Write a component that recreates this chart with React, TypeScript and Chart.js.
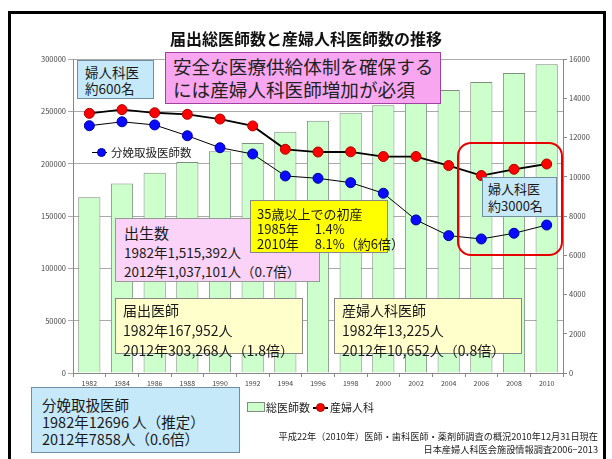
import React, { useEffect, useRef } from "react";
import { Chart, registerables } from "chart.js";

Chart.register(...registerables);

const years = ["1982", "1984", "1986", "1988", "1990", "1992", "1994", "1996", "1998", "2000", "2002", "2004", "2006", "2008", "2010"];
const totalDoctors = [167952, 181101, 191346, 201658, 211797, 219704, 230519, 240908, 248611, 255792, 262687, 270371, 277927, 286699, 295049];
const obgynDoctors = [13230, 13420, 13260, 13180, 12940, 12590, 11400, 11260, 11270, 11030, 11030, 10570, 10060, 10380, 10650];
const deliveryDoctors = [12600, 12800, 12640, 12090, 11480, 11160, 10040, 9920, 9700, 9160, 7800, 7000, 6830, 7120, 7540];
const leftTicks = { min: 0, max: 300000, step: 50000 };
const rightTicks = { min: 0, max: 16000, step: 2000 };

const FONT = "'Noto Sans CJK JP', 'Noto Sans', sans-serif";

type BoxProps = {
  left: number; top: number; width: number; height: number;
  bg: string; border: string; children?: React.ReactNode; style?: React.CSSProperties;
};
const Box = ({ left, top, width, height, bg, border, children, style }: BoxProps) => (
  <div
    style={{
      position: "absolute", left, top, width, height, boxSizing: "border-box",
      background: bg, border: `1px solid ${border}`, color: "#1a1a1a",
      fontFamily: FONT, whiteSpace: "nowrap", overflow: "visible", ...style,
    }}
  >
    {children}
  </div>
);

export default function App() {
  const ref = useRef<HTMLCanvasElement | null>(null);

  useEffect(() => {
    const canvas = ref.current;
    if (!canvas) return;
    const chart = new Chart(canvas, {
      type: "bar",
      data: {
        labels: years,
        datasets: [
          {
            type: "line",
            label: "産婦人科",
            data: obgynDoctors,
            yAxisID: "y1",
            borderColor: "#000",
            borderWidth: 1.8,
            pointBackgroundColor: "#ff0000",
            pointBorderColor: "#b00000",
            pointBorderWidth: 1,
            pointRadius: 5,
            tension: 0,
            order: 0,
          },
          {
            type: "line",
            label: "分娩取扱医師数",
            data: deliveryDoctors,
            yAxisID: "y1",
            borderColor: "#000",
            borderWidth: 1,
            pointBackgroundColor: "#0a0aff",
            pointBorderColor: "#0000a0",
            pointBorderWidth: 1,
            pointRadius: 5,
            tension: 0,
            order: 1,
          },
          {
            type: "bar",
            label: "総医師数",
            data: totalDoctors,
            yAxisID: "y",
            backgroundColor: "#ccffcc",
            borderColor: "#7f8f7f",
            borderWidth: 1,
            barPercentage: 0.68,
            categoryPercentage: 1,
            order: 2,
          },
        ],
      },
      options: {
        responsive: false,
        animation: false,
        devicePixelRatio: 1,
        layout: { padding: { left: 13, right: 9, top: 59, bottom: 66 } },
        plugins: { legend: { display: false }, title: { display: false }, tooltip: { enabled: false } },
        scales: {
          x: {
            offset: true,
            grid: { offset: true, drawOnChartArea: false, drawTicks: true, tickLength: 4, color: "#888" },
            border: { color: "#888" },
            ticks: { font: { size: 7, family: FONT }, color: "#444", maxRotation: 0, autoSkip: false, padding: 2 },
            afterFit: (s: any) => { s.height = 20; },
          },
          y: {
            position: "left",
            min: leftTicks.min,
            max: leftTicks.max,
            ticks: {
              stepSize: leftTicks.step, font: { size: 7.5, family: FONT }, color: "#444", padding: 2,
              callback: (v: any) => String(v),
            },
            grid: { color: "#aaa", tickLength: 5 },
            border: { color: "#888" },
            afterFit: (s: any) => { s.width = 60; },
          },
          y1: {
            position: "right",
            min: rightTicks.min,
            max: rightTicks.max,
            ticks: {
              stepSize: rightTicks.step, font: { size: 7.5, family: FONT }, color: "#444", padding: 2,
              callback: (v: any) => String(v),
            },
            grid: { drawOnChartArea: false, color: "#888", tickLength: 4 },
            border: { color: "#888" },
            afterFit: (s: any) => { s.width = 40; },
          },
        },
      },
    } as any);
    return () => chart.destroy();
  }, []);

  return (
    <div style={{ position: "fixed", left: 0, top: 0, width: 612, height: 459, background: "#fff", overflow: "hidden", fontFamily: FONT }}>
      <div style={{ position: "absolute", left: 8, top: 11, width: 598, height: 470, border: "3px solid #000", boxSizing: "border-box" }} />
      <canvas ref={ref} width={612} height={459} style={{ position: "absolute", left: 0, top: 0 }} />
      <div style={{ position: "absolute", left: 0, width: 612, top: 27, textAlign: "center", fontSize: 16, fontWeight: "bold", color: "#111", lineHeight: "22px" }}>
        届出総医師数と産婦人科医師数の推移
      </div>

      <Box left={77} top={60} width={77} height={39} bg="#c6e9fa" border="#6f8fa0" style={{ fontSize: 13.5, lineHeight: "16px", padding: "3px 0 0 7px" }}>
        婦人科医<br />約600名
      </Box>

      <Box left={165} top={52} width={276} height={52} bg="#f8a6f0" border="#a040a0" style={{ fontSize: 18.6, lineHeight: "23px", padding: "1px 0 0 7px", color: "#222" }}>
        安全な医療供給体制を確保する<br />には産婦人科医師増加が必須
      </Box>

      <div style={{ position: "absolute", left: 92, top: 145, height: 14, width: 120, fontSize: 11.5, lineHeight: "14px", color: "#222", whiteSpace: "nowrap" }}>
        <span style={{ position: "absolute", left: 0, top: 7, width: 15, height: 1, background: "#000" }} />
        <span style={{ position: "absolute", left: 5, top: 3, width: 9, height: 9, borderRadius: 5, background: "#0a0aff", boxSizing: "border-box", border: "1px solid #0000a0" }} />
        <span style={{ position: "absolute", left: 19, top: 0 }}>分娩取扱医師数</span>
      </div>

      <Box left={115} top={218} width={205} height={64} bg="#fcd3f8" border="#999" style={{ padding: "4px 0 0 8px" }}>
        <div style={{ fontSize: 15, lineHeight: "20px" }}>出生数</div>
        <div style={{ fontSize: 13.5, lineHeight: "19px" }}>1982年1,515,392人</div>
        <div style={{ fontSize: 13.5, lineHeight: "18px" }}>2012年1,037,101人（0.7倍）</div>
      </Box>

      <Box left={250} top={200} width={138} height={53} bg="#ffff00" border="#888" style={{ fontSize: 13, lineHeight: "15px", padding: "5px 0 0 6px" }}>
        35歳以上での初産<br />1985年　 1.4%<br />2010年　 8.1%（約6倍）
      </Box>

      <Box left={115} top={298} width={188} height={56} bg="#ffffcc" border="#888" style={{ fontSize: 14, lineHeight: "20px", padding: "1px 0 0 7px" }}>
        届出医師<br />1982年167,952人<br />2012年303,268人（1.8倍）
      </Box>

      <Box left={334} top={298} width={188} height={56} bg="#ffffcc" border="#888" style={{ fontSize: 14, lineHeight: "20px", padding: "1px 0 0 7px" }}>
        産婦人科医師<br />1982年13,225人<br />2012年10,652人（0.8倍）
      </Box>

      <div style={{ position: "absolute", left: 457, top: 142, width: 106, height: 114, border: "2px solid #e60000", borderRadius: 14, boxSizing: "border-box" }} />

      <Box left={482} top={177} width={75} height={40} bg="#c6e9fa" border="#6f8fa0" style={{ fontSize: 13, lineHeight: "17px", padding: "2px 0 0 5px" }}>
        婦人科医<br />約3000名
      </Box>

      <Box left={31} top={387} width={209} height={66} bg="#c6e9fa" border="#6f8fa0" style={{ fontSize: 14.5, lineHeight: "17px", padding: "8px 0 0 10px" }}>
        分娩取扱医師<br />1982年12696 人（推定）<br />2012年7858人（0.6倍）
      </Box>

      <div style={{ position: "absolute", left: 247, top: 400, height: 14, width: 150, fontSize: 11, lineHeight: "14px", color: "#222", whiteSpace: "nowrap" }}>
        <span style={{ position: "absolute", left: 0, top: 2, width: 16, height: 8, background: "#ccffcc", border: "1px solid #7f8f7f" }} />
        <span style={{ position: "absolute", left: 19, top: 0 }}>総医師数</span>
        <span style={{ position: "absolute", left: 66, top: 7, width: 15, height: 1.5, background: "#000" }} />
        <span style={{ position: "absolute", left: 69, top: 3, width: 9, height: 9, borderRadius: 5, background: "#ff0000", boxSizing: "border-box", border: "1px solid #b00000" }} />
        <span style={{ position: "absolute", left: 83, top: 0 }}>産婦人科</span>
      </div>

      <div style={{ position: "absolute", right: 14, top: 430, textAlign: "right", fontSize: 9.2, lineHeight: "13px", color: "#222", whiteSpace: "nowrap" }}>
        平成22年（2010年）医師・歯科医師・薬剤師調査の概況2010年12月31日現在<br />日本産婦人科医会施設情報調査2006−2013
      </div>
    </div>
  );
}
